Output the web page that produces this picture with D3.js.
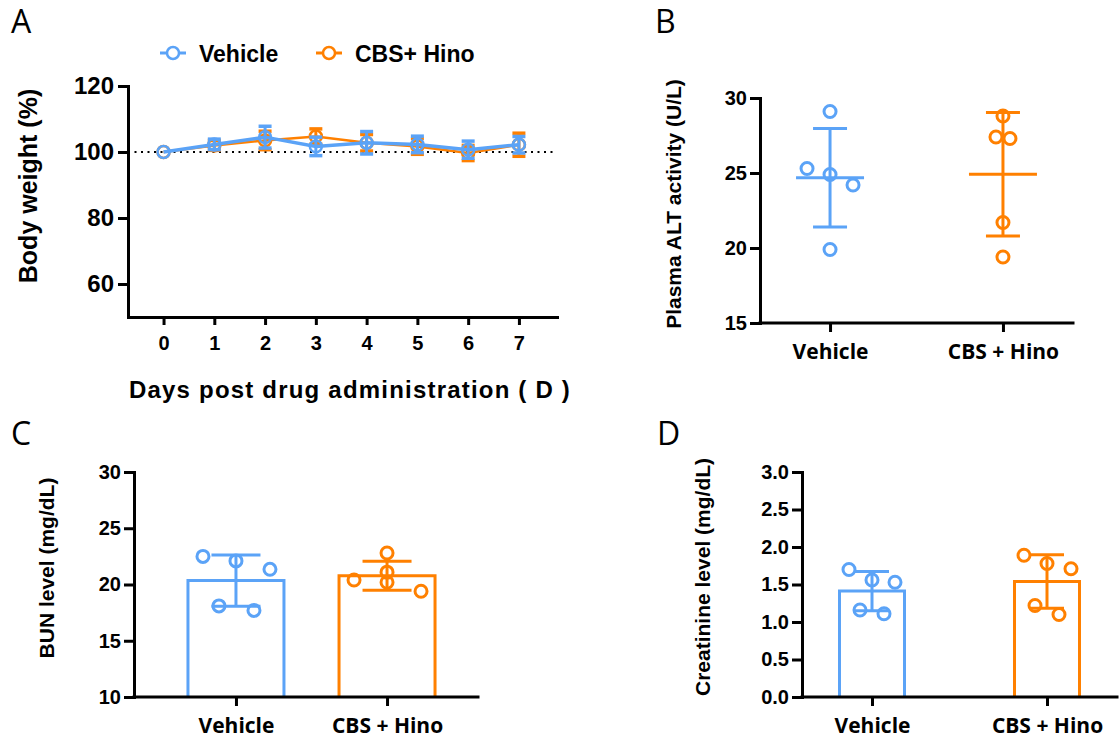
<!DOCTYPE html>
<html>
<head>
<meta charset="utf-8">
<script src="https://cdn.jsdelivr.net/npm/d3@7/dist/d3.min.js"></script>
<style>
  html, body { margin: 0; padding: 0; background: #fff; }
  svg { display: block; }
</style>
</head>
<body>
<script>
// ---------- data ----------
// A: body weight (% of day 0), mean and SD per day
const days = [0, 1, 2, 3, 4, 5, 6, 7];
const vehicleWeightMean = [100, 102.3, 104.5, 101.7, 102.8, 102.3, 100.7, 102.2];
const vehicleWeightSD   = [0, 1.6, 3.3, 2.8, 3.4, 2.5, 2.6, 2.5];
const cbsWeightMean     = [100, 102.0, 103.5, 104.7, 102.8, 101.7, 99.7, 102.2];
const cbsWeightSD       = [0, 1.5, 2.8, 2.3, 2.5, 2.4, 2.3, 3.5];
const weightTicks = [60, 80, 100, 120];

// Group labels shared by B, C, D
const groups = ["Vehicle", "CBS + Hino"];

// B: plasma ALT activity (U/L), individual animals
const altVehicle = [29.1, 25.3, 24.9, 24.2, 19.9];
const altCbs     = [28.8, 27.4, 27.3, 21.7, 19.4];
const altTicks = [15, 20, 25, 30];

// C: BUN level (mg/dL)
const bunVehicle = [22.5, 22.1, 21.35, 18.1, 17.7];
const bunCbs     = [22.8, 21.1, 20.2, 20.4, 19.4];
const bunTicks = [10, 15, 20, 25, 30];

// D: creatinine level (mg/dL)
const creVehicle = [1.70, 1.56, 1.53, 1.16, 1.11];
const creCbs     = [1.89, 1.78, 1.71, 1.22, 1.10];
const creTicks = [0.0, 0.5, 1.0, 1.5, 2.0, 2.5, 3.0];

// Horizontal spread of overlapping dots (pixels from group centre)
const altVehicleSpread = [0, -23, 0, 23, 0];
const altCbsSpread     = [0, -7, 7, 0, 0];
const bunVehicleSpread = [-33, 0, 34, -17, 18];
const bunCbsSpread     = [0, 0, 0, -33, 34];
const creVehicleSpread = [-23, 0, 23, -12, 12];
const creCbsSpread     = [-23, 0, 24, -12, 12];

// ---------- style ----------
const BLUE = "#5ba3f7";
const ORANGE = "#ff8000";
const TICK_FONT = "'Liberation Sans', Arial, sans-serif";
const CAT_FONT = "'Open Sans', 'Liberation Sans', sans-serif";

const svg = d3.select("body").append("svg")
  .attr("width", 1119).attr("height", 740);

function styleAxis(g, fontSize, family) {
  g.select(".domain").attr("stroke", "#000").attr("stroke-width", 3).attr("stroke-linecap", "square");
  g.selectAll(".tick line").attr("stroke", "#000").attr("stroke-width", 3);
  g.selectAll(".tick text")
    .attr("fill", "#000")
    .style("font-family", family)
    .style("font-weight", "bold")
    .style("font-size", fontSize + "px");
}

function panelLetter(txt, x, y) {
  svg.append("text").attr("x", x).attr("y", y).text(txt)
    .style("font-family", CAT_FONT).style("font-size", "32px").attr("fill", "#000");
}

function yTitle(txt, cx, cy, size) {
  svg.append("text")
    .attr("transform", `translate(${cx},${cy}) rotate(-90)`)
    .attr("text-anchor", "middle").attr("dominant-baseline", "central")
    .text(txt)
    .style("font-family", TICK_FONT).style("font-weight", "bold")
    .style("font-size", size + "px").attr("fill", "#000");
}

// ---------- Panel A: body weight time course ----------
panelLetter("A", 11, 33);
{
  const x = d3.scaleLinear().domain([-0.7, 7.75]).range([128, 557]);
  const y = d3.scaleLinear().domain([50, 120]).range([317, 86]);

  const gy = svg.append("g").attr("transform", "translate(128,0)")
    .call(d3.axisLeft(y).tickValues(weightTicks).tickSize(10).tickSizeOuter(0).tickPadding(4));
  styleAxis(gy, 24, TICK_FONT);

  const gx = svg.append("g").attr("transform", "translate(0,317)")
    .call(d3.axisBottom(x).tickValues(days).tickSize(8).tickSizeOuter(0).tickPadding(11));
  styleAxis(gx, 20, TICK_FONT);

  // reference line at 100 %
  svg.append("line")
    .attr("x1", x.range()[0]).attr("x2", x.range()[1])
    .attr("y1", y(100)).attr("y2", y(100))
    .attr("stroke", "#000").attr("stroke-width", 2.2)
    .attr("stroke-dasharray", "2,4.5");

  function series(means, sds, color, lineW) {
    const pts = days.map((d, i) => ({ d, m: means[i], s: sds[i] }));
    const g = svg.append("g");
    g.append("path").datum(pts)
      .attr("fill", "none").attr("stroke", color).attr("stroke-width", lineW)
      .attr("d", d3.line().x(p => x(p.d)).y(p => y(p.m)));
    const eb = g.selectAll(".eb").data(pts.filter(p => p.s > 0)).join("g");
    eb.append("line")
      .attr("x1", p => x(p.d)).attr("x2", p => x(p.d))
      .attr("y1", p => y(p.m - p.s)).attr("y2", p => y(p.m + p.s))
      .attr("stroke", color).attr("stroke-width", 3);
    [-1, 1].forEach(k => {
      eb.append("line")
        .attr("x1", p => x(p.d) - 6.5).attr("x2", p => x(p.d) + 6.5)
        .attr("y1", p => y(p.m + k * p.s)).attr("y2", p => y(p.m + k * p.s))
        .attr("stroke", color).attr("stroke-width", 3.5);
    });
    g.selectAll("circle").data(pts).join("circle")
      .attr("cx", p => x(p.d)).attr("cy", p => y(p.m)).attr("r", 6)
      .attr("fill", "none").attr("stroke", color).attr("stroke-width", 2.5);
  }
  series(cbsWeightMean, cbsWeightSD, ORANGE, 2.5);
  series(vehicleWeightMean, vehicleWeightSD, BLUE, 3.5);

  // legend
  const legend = [
    { label: "Vehicle", color: BLUE, x: 160 },
    { label: "CBS+ Hino", color: ORANGE, x: 316 }
  ];
  const lg = svg.append("g").selectAll("g").data(legend).join("g")
    .attr("transform", d => `translate(${d.x},53)`);
  lg.append("line").attr("x1", 0).attr("x2", 26).attr("y1", 0).attr("y2", 0)
    .attr("stroke", d => d.color).attr("stroke-width", 3);
  lg.append("circle").attr("cx", 13).attr("cy", 0).attr("r", 6)
    .attr("fill", "#fff").attr("stroke", d => d.color).attr("stroke-width", 2.5);
  lg.append("text").attr("x", 39).attr("y", 8.5).text(d => d.label)
    .style("font-family", TICK_FONT).style("font-weight", "bold")
    .style("font-size", "23px").attr("fill", "#000");

  yTitle("Body weight (%)", 28, 186, 25);
  svg.append("text").attr("x", 350).attr("y", 398).attr("text-anchor", "middle")
    .text("Days post drug administration ( D )")
    .style("font-family", TICK_FONT).style("font-weight", "bold")
    .style("font-size", "24px").style("letter-spacing", "1.2px").attr("fill", "#000");
}

// ---------- helpers for the group panels ----------
function groupAxes(x, y, ticks, fmt, axisX0, axisX1, axisY) {
  const gy = svg.append("g").attr("transform", `translate(${axisX0},0)`)
    .call(d3.axisLeft(y).tickValues(ticks).tickFormat(fmt).tickSize(10).tickSizeOuter(0).tickPadding(3));
  styleAxis(gy, 20, TICK_FONT);
  const gx = svg.append("g").attr("transform", `translate(0,${axisY})`)
    .call(d3.axisBottom(x).tickSize(9).tickSizeOuter(0).tickPadding(8));
  gx.select(".domain").remove();
  gx.append("line").attr("x1", axisX0).attr("x2", axisX1).attr("y1", 0).attr("y2", 0)
    .attr("stroke", "#000").attr("stroke-width", 3).attr("stroke-linecap", "square");
  styleAxis(gx, 21, CAT_FONT);
  gx.selectAll(".tick text").attr("dy", "0.9em");
}

function dots(vals, spread, cx, y, color) {
  svg.append("g").selectAll("circle").data(vals).join("circle")
    .attr("cx", (v, i) => cx + spread[i]).attr("cy", v => y(v)).attr("r", 6)
    .attr("fill", "none").attr("stroke", color).attr("stroke-width", 3);
}

function errorBar(vals, cx, y, color, capHalf, meanHalf) {
  const m = d3.mean(vals), s = d3.deviation(vals);
  const g = svg.append("g").attr("stroke", color).attr("stroke-width", 3);
  g.append("line").attr("x1", cx).attr("x2", cx).attr("y1", y(m - s)).attr("y2", y(m + s));
  [m - s, m + s].forEach(v => {
    g.append("line").attr("x1", cx - capHalf).attr("x2", cx + capHalf).attr("y1", y(v)).attr("y2", y(v));
  });
  if (meanHalf) {
    g.append("line").attr("x1", cx - meanHalf).attr("x2", cx + meanHalf).attr("y1", y(m)).attr("y2", y(m));
  }
}

function bar(vals, cx, y, color, half) {
  const m = d3.mean(vals);
  const y0 = y(y.domain()[0]);
  svg.append("path")
    .attr("d", `M${cx - half},${y0}V${y(m)}H${cx + half}V${y0}`)
    .attr("fill", "#fff").attr("stroke", color).attr("stroke-width", 3);
}

// ---------- Panel B: plasma ALT ----------
panelLetter("B", 655, 33);
{
  const x = d3.scalePoint().domain(groups).range([760, 1073]).padding(0.405);
  const y = d3.scaleLinear().domain([15, 30]).range([323, 98]);
  groupAxes(x, y, altTicks, d3.format("d"), 760, 1073, 323);
  errorBar(altVehicle, x(groups[0]), y, BLUE, 17, 34);
  errorBar(altCbs, x(groups[1]), y, ORANGE, 17, 34);
  dots(altVehicle, altVehicleSpread, x(groups[0]), y, BLUE);
  dots(altCbs, altCbsSpread, x(groups[1]), y, ORANGE);
  yTitle("Plasma ALT activity (U/L)", 673, 204, 21);
}

// ---------- Panel C: BUN ----------
panelLetter("C", 11, 445);
{
  const x = d3.scalePoint().domain(groups).range([134, 489]).padding(0.675);
  const y = d3.scaleLinear().domain([10, 30]).range([697, 472]);
  bar(bunVehicle, x(groups[0]), y, BLUE, 48);
  bar(bunCbs, x(groups[1]), y, ORANGE, 48);
  groupAxes(x, y, bunTicks, d3.format("d"), 134, 478, 697);
  errorBar(bunVehicle, x(groups[0]), y, BLUE, 24.5);
  errorBar(bunCbs, x(groups[1]), y, ORANGE, 24.5);
  dots(bunVehicle, bunVehicleSpread, x(groups[0]), y, BLUE);
  dots(bunCbs, bunCbsSpread, x(groups[1]), y, ORANGE);
  yTitle("BUN level (mg/dL)", 46, 568, 21);
}

// ---------- Panel D: creatinine ----------
panelLetter("D", 657, 445);
{
  const x = d3.scalePoint().domain(groups).range([802, 1117]).padding(0.4);
  const y = d3.scaleLinear().domain([0, 3]).range([697, 472]);
  bar(creVehicle, x(groups[0]), y, BLUE, 32.5);
  bar(creCbs, x(groups[1]), y, ORANGE, 32.5);
  groupAxes(x, y, creTicks, d3.format(".1f"), 802, 1117, 697);
  errorBar(creVehicle, x(groups[0]), y, BLUE, 17);
  errorBar(creCbs, x(groups[1]), y, ORANGE, 17);
  dots(creVehicle, creVehicleSpread, x(groups[0]), y, BLUE);
  dots(creCbs, creCbsSpread, x(groups[1]), y, ORANGE);
  yTitle("Creatinine level (mg/dL)", 702, 577, 21);
}
</script>
</body>
</html>
